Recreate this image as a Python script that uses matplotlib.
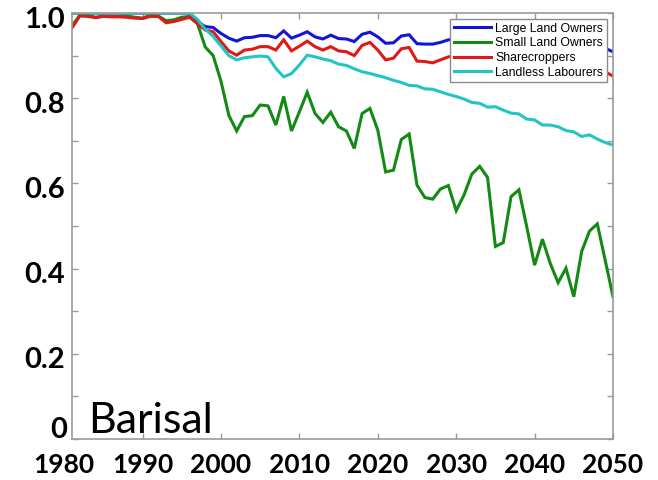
import matplotlib
matplotlib.use("Agg")
import matplotlib.pyplot as plt
import matplotlib.transforms as mtransforms

years = list(range(1981, 2051))

large_land_owners = [
    1.0, 1.0, 1.0, 1.0, 1.0, 1.0, 1.0, 1.0, 1.0, 1.0, 1.0, 1.0, 1.0, 1.0, 1.0, 1.0,
    0.980, 0.968, 0.966, 0.952, 0.941, 0.934, 0.942, 0.943, 0.947, 0.947,
    0.942, 0.958, 0.941, 0.948, 0.956, 0.944, 0.939, 0.948, 0.940, 0.939,
    0.933, 0.950, 0.955, 0.944, 0.929, 0.930, 0.946, 0.949, 0.928, 0.927,
    0.927, 0.931, 0.937, 0.938,
    0.935, 0.940, 0.933, 0.930, 0.936, 0.932, 0.928, 0.934, 0.930, 0.926,
    0.931, 0.927, 0.924, 0.929, 0.925, 0.921, 0.926, 0.922,
    0.917, 0.909,
]

small_land_owners = [
    0.970, 0.995, 0.995, 0.990, 0.993, 0.992, 0.992, 0.993, 0.990, 0.988,
    0.995, 0.993, 0.982, 0.984, 0.990, 0.992,
    0.975, 0.920, 0.900, 0.840, 0.760, 0.723, 0.757, 0.759, 0.784, 0.782,
    0.737, 0.804, 0.723, 0.768, 0.814, 0.764, 0.743, 0.767, 0.733, 0.723,
    0.682, 0.764, 0.776, 0.725, 0.627, 0.631, 0.703, 0.716, 0.596, 0.567,
    0.563, 0.587, 0.595, 0.536, 0.573, 0.622, 0.640, 0.614, 0.452, 0.461,
    0.569, 0.585, 0.498, 0.408, 0.469, 0.412, 0.367, 0.401, 0.334, 0.440,
    0.488, 0.505, 0.420, 0.334,
]

sharecroppers = [
    0.965, 0.993, 0.992, 0.989, 0.992, 0.991, 0.991, 0.990, 0.988, 0.987,
    0.992, 0.992, 0.977, 0.980, 0.985, 0.990,
    0.975, 0.960, 0.956, 0.933, 0.911, 0.901, 0.913, 0.915, 0.921, 0.921,
    0.913, 0.937, 0.911, 0.922, 0.934, 0.921, 0.913, 0.921, 0.911, 0.909,
    0.900, 0.924, 0.931, 0.913, 0.890, 0.894, 0.916, 0.919, 0.887, 0.886,
    0.883, 0.890, 0.897, 0.900,
    0.895, 0.900, 0.893, 0.889, 0.895, 0.890, 0.886, 0.892, 0.887, 0.883,
    0.888, 0.884, 0.880, 0.885, 0.879, 0.875, 0.879, 0.872,
    0.862, 0.852,
]

landless_labourers = [
    1.0, 1.0, 1.0, 1.0, 1.0, 1.0, 1.0, 1.0, 1.0, 1.0, 1.0, 1.0, 1.0, 1.0, 1.0, 1.0,
    0.985, 0.962, 0.945, 0.923, 0.900, 0.890, 0.895, 0.897, 0.899, 0.897,
    0.870, 0.850, 0.858, 0.878, 0.901, 0.897, 0.892, 0.888, 0.880, 0.877,
    0.869, 0.862, 0.858, 0.853, 0.848, 0.842, 0.837, 0.830, 0.829, 0.822,
    0.821, 0.815, 0.809, 0.804, 0.798, 0.790, 0.788, 0.779, 0.780, 0.772,
    0.765, 0.763, 0.751, 0.749, 0.737, 0.737, 0.733, 0.724, 0.721, 0.710,
    0.714, 0.704, 0.696, 0.690,
]

series_names = ["Large Land Owners", "Small Land Owners", "Sharecroppers", "Landless Labourers"]
series_colors = ["#1414d6", "#138a13", "#e01818", "#22c4c4"]

x_tick_values = [1990, 2000, 2010, 2020, 2030, 2040, 2050]
x_tick_labels = ["1990", "2000", "2010", "2020", "2030", "2040", "2050"]
y_tick_values = [0.0, 0.1, 0.2, 0.3, 0.4, 0.5, 0.6, 0.7, 0.8, 0.9, 1.0]
y_tick_labels = ["", "", "0.2", "", "0.4", "", "0.6", "", "0.8", "", "1.0"]
region_name = "Barisal"

W, H = 658, 480
fig = plt.figure(figsize=(W / 100, H / 100), dpi=100)
ax = fig.add_axes([72 / W, 1 - 439 / H, (613 - 72) / W, (439 - 13) / H])

for vals, name, col in zip([large_land_owners, small_land_owners, sharecroppers, landless_labourers],
                           series_names, series_colors):
    ax.plot(years, vals, color=col, lw=2.2, label=name, solid_joinstyle="miter")

ax.set_xlim(1981, 2050)
ax.set_ylim(0, 1.0)

spine_col = "#9a9a9a"
for s in ax.spines.values():
    s.set_color(spine_col)
    s.set_linewidth(1.2)

xfont = dict(family="Lato", weight="bold", size=19)
yfont = dict(family="Lato", weight="bold", size=21)
ax.set_xticks(x_tick_values)
ax.set_xticklabels(x_tick_labels, fontdict=xfont)
ax.set_yticks(y_tick_values)
ax.set_yticklabels(y_tick_labels, fontdict=yfont)
ax.tick_params(direction="in", length=4, width=1, color=spine_col,
               top=True, right=True, labelcolor="black")
ax.tick_params(axis="x", pad=10)
ax.tick_params(axis="y", pad=5)

# y labels sit slightly below their ticks in the reference
down = mtransforms.ScaledTranslation(0, -0.04, fig.dpi_scale_trans)
for lab in ax.yaxis.get_majorticklabels():
    lab.set_transform(lab.get_transform() + down)

# label for 1980 (outside view limits) and the raised "0" label
tx = mtransforms.blended_transform_factory(ax.transData, ax.transAxes)
ax.text(1980, 0, "1980",
        transform=tx + mtransforms.ScaledTranslation(0, -10 / 72, fig.dpi_scale_trans),
        ha="center", va="top", clip_on=False, **xfont)
ty = mtransforms.blended_transform_factory(ax.transAxes, ax.transData)
ax.text(0, 0.028, "0",
        transform=ty + mtransforms.ScaledTranslation(-0.05, 0, fig.dpi_scale_trans),
        ha="right", va="center_baseline", clip_on=False, **yfont)

fig.text(88 / W, 1 - 433 / H, region_name, family="Lato", size=31, ha="left", va="baseline")

leg = ax.legend(loc="upper right", bbox_to_anchor=(607 / W, 1 - 19 / H),
                bbox_transform=fig.transFigure, borderaxespad=0,
                prop=dict(family="Liberation Sans", size=8.8),
                handlelength=3.0, handletextpad=0.4, labelspacing=0.22,
                borderpad=0.3, fancybox=False, framealpha=1, edgecolor="#8a8a8a")
leg.get_frame().set_linewidth(1.0)

fig.savefig("out.png", dpi=100)
